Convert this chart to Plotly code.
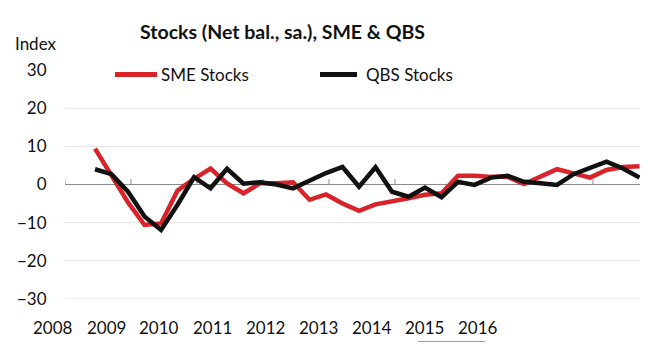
import plotly.graph_objects as go

# ---- data (quarterly points) ----
quarter_index = list(range(34))
sme_stocks = [9.4, 2.4, -4.7, -10.6, -10.2, -1.6, 1.5, 4.2, 0.3, -2.3,
              0.3, 0.3, 0.6, -4.0, -2.6, -5.0, -6.9, -5.2, -4.5, -3.6,
              -2.7, -2.3, 2.3, 2.3, 2.0, 2.0, 0.1, 2.0, 4.0, 2.9,
              1.8, 3.8, 4.6, 4.8]
qbs_stocks = [4.0, 2.7, -1.9, -8.4, -11.9, -5.3, 1.9, -1.0, 4.1, 0.2,
              0.6, 0.0, -1.0, 1.0, 3.0, 4.6, -0.6, 4.5, -1.9, -3.2,
              -0.8, -3.3, 0.7, -0.1, 1.8, 2.3, 0.7, 0.3, -0.1, 2.7,
              4.5, 6.0, 4.2, 1.8]
series_names = ["SME Stocks", "QBS Stocks"]
year_labels = ["2008", "2009", "2010", "2011", "2012", "2013", "2014", "2015", "2016"]
y_ticks = [30, 20, 10, 0, -10, -20, -30]
grid_values = [20, 10, -10, -20, -30]
x_tick_marks = [-1.82, 2.18, 6.18, 10.18, 14.18, 18.18, 22.18, 26.18, 30.18]

RED = "#D8232A"
BLACK = "#111111"
FONT = "Lato"
X_RANGE = [-1.82, 33.03]

# plot area (in page pixels; page has an 8px body offset)
L, R, T, B = 57, 632, 61.6, 291.4
W, H = R - L, B - T


def px_x(p):   # reference-image x pixel -> paper x
    return (p - 8 - L) / W


def px_y(p):   # reference-image y pixel -> paper y
    return (B - (p - 8)) / H


fig = go.Figure()
fig.add_trace(go.Scatter(x=quarter_index, y=sme_stocks, mode="lines", name=series_names[0],
                         line=dict(color=RED, width=4.5), showlegend=False))
fig.add_trace(go.Scatter(x=quarter_index, y=qbs_stocks, mode="lines", name=series_names[1],
                         line=dict(color=BLACK, width=4.5), showlegend=False))

shapes = []
for v in grid_values:
    shapes.append(dict(type="line", xref="x domain", yref="y", x0=0, x1=1, y0=v, y1=v,
                       line=dict(color="#e3e3e3", width=1), layer="below"))
for t in x_tick_marks:
    shapes.append(dict(type="line", xref="x", yref="y", x0=t, x1=t, y0=0, y1=1.4,
                       line=dict(color="#8a8a8a", width=1), layer="below"))
# small underline artefact under 2015-2016
shapes.append(dict(type="line", xref="paper", yref="paper",
                   x0=px_x(418), x1=px_x(485), y0=px_y(342), y1=px_y(342),
                   line=dict(color="#9a9a9a", width=1)))
# manual legend keys
legend_keys = [(115, 157, RED), (320, 357, BLACK)]
for x0, x1, c in legend_keys:
    shapes.append(dict(type="line", xref="paper", yref="paper",
                       x0=px_x(x0), x1=px_x(x1), y0=px_y(74), y1=px_y(74),
                       line=dict(color=c, width=5)))

annotations = [dict(text="Index", xref="paper", yref="paper", x=px_x(13), xanchor="left",
                    y=px_y(43), yanchor="middle", showarrow=False,
                    font=dict(family=FONT, size=17))]
for name, tx in zip(series_names, [159, 364]):
    annotations.append(dict(text=name, xref="paper", yref="paper", x=px_x(tx), xanchor="left",
                            y=px_y(74), yanchor="middle", showarrow=False,
                            font=dict(family=FONT, size=17)))
for k, lab in enumerate(year_labels):
    annotations.append(dict(text=lab, xref="paper", yref="paper",
                            x=px_x(53 + 53.125 * k), xanchor="center",
                            y=px_y(328), yanchor="middle", showarrow=False,
                            font=dict(family=FONT, size=17)))

fig.update_layout(
    width=650, height=356,
    margin=dict(l=L, r=650 - R, t=T, b=356 - B, autoexpand=False),
    paper_bgcolor="white", plot_bgcolor="white",
    font=dict(family=FONT, color="#111111", size=16),
    title=dict(text="<b>Stocks (Net bal., sa.), SME &amp; QBS</b>",
               x=(282.5 - 8) / 650, xanchor="center", y=1 - (32 - 8) / 356, yanchor="middle",
               font=dict(family=FONT, size=19.5, color="#111111")),
    showlegend=False,
    xaxis=dict(range=X_RANGE, showgrid=False, zeroline=False, showline=False,
               showticklabels=False, ticks=""),
    yaxis=dict(range=[-30, 30], tickmode="array", tickvals=y_ticks,
               showgrid=False, zeroline=True, zerolinecolor="#8a8a8a", zerolinewidth=1,
               showline=False, ticks="outside", ticklen=14, tickcolor="rgba(0,0,0,0)",
               tickfont=dict(size=17)),
    shapes=shapes,
    annotations=annotations,
)

fig.write_html("out.html")
